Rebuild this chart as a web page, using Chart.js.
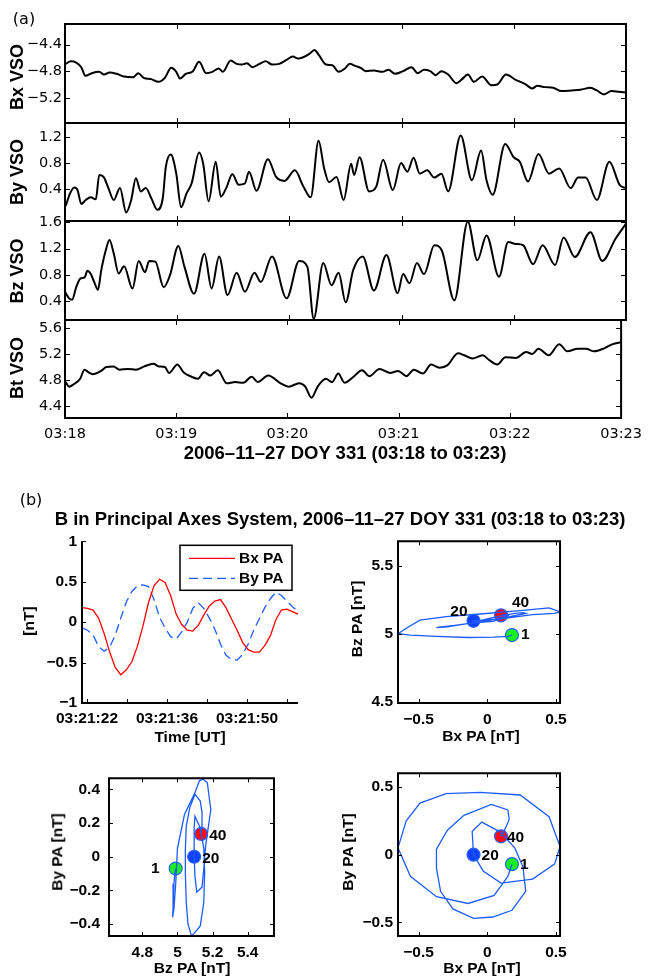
<!DOCTYPE html>
<html>
<head>
<meta charset="utf-8">
<script src="https://cdn.jsdelivr.net/npm/chart.js@4.4.1/dist/chart.umd.min.js"></script>
<style>
body { margin: 0; background: #fff; width: 650px; height: 979px; position: relative; overflow: hidden; font-family: 'Liberation Sans', Arial, sans-serif; }
canvas { position: absolute; }
.t { position: absolute; white-space: nowrap; color: #000; line-height: 1; transform: translate(-50%, -50%); }
.r { transform: translate(-50%, -50%) rotate(-90deg); }
.b { font-weight: bold; }
.top { font-size: 18px; }
.pa { font-size: 15.5px; }
.big { font-size: 18.5px; }
.tag { font-family: 'DejaVu Sans', sans-serif; font-size: 16px; }
</style>
</head>
<body>
<canvas id="pBx"></canvas>
<canvas id="pBy"></canvas>
<canvas id="pBz"></canvas>
<canvas id="pBt"></canvas>
<canvas id="paTime"></canvas>
<canvas id="paXZ"></canvas>
<canvas id="paZY"></canvas>
<canvas id="paXY"></canvas>

<div class="t tag" style="left:24px;top:19px">(a)</div>
<div class="t b top r" style="left:17px;top:77px">Bx VSO</div>
<div class="t b top r" style="left:17px;top:172px">By VSO</div>
<div class="t b top r" style="left:17px;top:271px">Bz VSO</div>
<div class="t b top r" style="left:17px;top:368px">Bt VSO</div>
<div class="t b big" style="left:345px;top:453px">2006–11–27 DOY 331 (03:18 to 03:23)</div>

<div class="t tag" style="left:31px;top:500px">(b)</div>
<div class="t b big" style="left:340px;top:519px">B in Principal Axes System, 2006–11–27 DOY 331 (03:18 to 03:23)</div>
<div class="t b pa r" style="left:29px;top:621px">[nT]</div>
<div class="t b pa" style="left:190px;top:737px">Time [UT]</div>
<div class="t b pa r" style="left:357px;top:619px">Bz PA [nT]</div>
<div class="t b pa" style="left:481px;top:736px">Bx PA [nT]</div>
<div class="t b pa r" style="left:57px;top:852px">By PA [nT]</div>
<div class="t b pa" style="left:192px;top:968px">Bz PA [nT]</div>
<div class="t b pa r" style="left:348px;top:852px">By PA [nT]</div>
<div class="t b pa" style="left:482px;top:968px">Bx PA [nT]</div>

<script>
// (a) VSO components, seconds after 03:18:00 and field in nT
const bxT = [0.4, 3.1, 6.0, 8.7, 10.9, 14.3, 18.3, 20.9, 23.8, 27.6, 31.6, 36.5, 39.2, 42.1, 46.1, 49.9, 53.4, 56.8, 59.5, 61.5, 64.6, 68.4, 71.7, 75.5, 78.8, 82.2, 84.4, 88.6, 91.8, 94.6, 97.3, 100.2, 104.0, 107.3, 110.7, 114.5, 118.5, 121.8, 124.7, 127.4, 130.7, 133.4, 135.8, 139.6, 143.0, 146.3, 149.7, 152.3, 155.2, 158.1, 160.8, 165.2, 169.7, 173.0, 176.4, 180.8, 185.3, 188.6, 192.0, 195.3, 198.2, 201.3, 204.9, 209.3, 212.0, 215.4, 218.7, 223.1, 228.0, 231.2, 235.8, 241.0, 245.9, 249.9, 252.5, 256.6, 261.0, 265.5, 271.0, 275.5, 281.0, 284.4, 288.2, 292.2, 296.2, 300.0]
const bxV = [-4.69, -4.65, -4.67, -4.74, -4.87, -4.83, -4.81, -4.85, -4.82, -4.84, -4.88, -4.89, -4.83, -4.90, -4.92, -4.96, -4.90, -4.75, -4.81, -4.91, -4.84, -4.80, -4.66, -4.83, -4.81, -4.76, -4.81, -4.64, -4.69, -4.70, -4.68, -4.74, -4.69, -4.65, -4.70, -4.69, -4.63, -4.58, -4.61, -4.59, -4.54, -4.48, -4.56, -4.70, -4.71, -4.81, -4.76, -4.69, -4.72, -4.75, -4.80, -4.79, -4.81, -4.78, -4.84, -4.80, -4.74, -4.83, -4.78, -4.80, -4.86, -4.80, -4.85, -4.98, -4.93, -4.85, -4.96, -4.88, -5.01, -5.00, -4.85, -4.93, -4.99, -5.06, -5.02, -5.04, -5.05, -5.10, -5.09, -5.08, -5.05, -5.09, -5.15, -5.10, -5.11, -5.12]

const byT = [0.4, 2.7, 4.9, 6.7, 8.7, 11.1, 13.8, 16.5, 18.3, 20.9, 23.2, 26.1, 29.4, 32.7, 35.4, 37.9, 40.5, 43.2, 46.1, 49.4, 52.3, 53.9, 56.6, 59.5, 62.1, 65.0, 67.7, 71.7, 73.9, 76.8, 80.6, 83.3, 86.2, 89.5, 92.9, 96.2, 98.4, 102.4, 108.5, 112.9, 117.4, 122.9, 127.4, 131.4, 135.6, 138.5, 141.2, 145.2, 149.0, 153.0, 154.6, 157.5, 162.6, 166.4, 170.1, 175.3, 179.7, 183.1, 186.4, 189.7, 193.7, 197.5, 201.3, 204.9, 211.6, 217.6, 222.5, 225.4, 228.7, 235.4, 239.9, 243.2, 247.6, 253.2, 258.8, 264.3, 270.4, 274.4, 278.4, 284.4, 291.1, 296.6, 300]
const byV = [0.15, 0.34, 0.43, 0.39, 0.18, 0.24, 0.28, 0.25, 0.62, 0.58, 0.42, 0.24, 0.42, 0.05, 0.24, 0.57, 0.37, 0.42, 0.27, 0.09, 0.27, 0.74, 0.93, 0.64, 0.13, 0.34, 0.49, 0.96, 0.79, 0.22, 0.82, 0.29, 0.42, 0.63, 0.47, 0.49, 0.67, 0.38, 0.86, 0.59, 0.53, 0.69, 0.45, 0.28, 1.14, 0.73, 0.51, 0.59, 0.24, 0.79, 0.62, 0.89, 0.37, 0.44, 0.85, 0.39, 0.80, 0.67, 0.88, 0.64, 0.69, 0.58, 0.64, 0.37, 1.22, 0.54, 0.99, 0.54, 0.32, 1.09, 0.89, 0.82, 0.52, 0.94, 0.64, 0.72, 0.42, 0.58, 0.58, 0.24, 0.82, 0.47, 0.42]

const bzT = [0, 2.2, 3.8, 6.0, 8.2, 10.5, 12.0, 13.8, 15.6, 17.6, 19.4, 21.6, 23.8, 26.1, 28.7, 31.6, 36.1, 39.4, 42.8, 45.0, 48.3, 52.8, 56.1, 60.6, 63.9, 69.0, 74.6, 78.4, 82.4, 86.9, 91.8, 96.2, 101.3, 104.7, 110.7, 118.5, 125.2, 129.6, 133.0, 138.1, 142.5, 146.3, 150.1, 154.1, 159.2, 165.2, 171.9, 177.9, 180.8, 184.2, 188.2, 192.0, 197.5, 201.5, 208.2, 215.4, 220.5, 225.4, 232.1, 237.0, 241.0, 245.0, 250.3, 255.4, 262.1, 266.6, 272.6, 281.0, 287.3, 294.4, 300]
const bzV = [0.54, 0.44, 0.42, 0.61, 0.74, 0.76, 0.86, 0.81, 0.69, 0.57, 0.87, 1.15, 1.33, 1.12, 0.82, 0.93, 0.59, 1.01, 0.84, 1.01, 1.00, 0.61, 0.79, 1.24, 0.92, 0.51, 1.12, 0.59, 1.08, 0.49, 0.83, 0.54, 0.83, 0.69, 1.08, 0.44, 1.01, 0.92, 0.13, 0.98, 0.64, 0.83, 0.38, 0.87, 1.08, 0.56, 1.10, 0.52, 0.81, 0.67, 0.98, 0.81, 1.25, 1.17, 0.41, 1.61, 1.02, 1.40, 0.77, 1.30, 1.27, 1.25, 0.96, 1.25, 0.95, 1.37, 1.07, 1.45, 1.01, 1.35, 1.58]

const btT = [0.4, 2.2, 4.9, 8.2, 10.5, 12.7, 14.9, 19.4, 22.3, 26.1, 29.4, 33.9, 38.3, 42.8, 47.7, 50.6, 53.9, 56.1, 60.6, 63.9, 68.4, 71.7, 75.0, 78.4, 82.4, 87.3, 91.8, 96.2, 100.7, 104.0, 109.6, 116.3, 120.7, 126.3, 129.6, 133.0, 136.3, 140.7, 144.1, 147.4, 150.8, 155.2, 160.3, 164.1, 169.7, 175.3, 179.7, 184.2, 188.2, 193.1, 197.5, 202.0, 206.4, 212.0, 215.4, 219.8, 225.4, 228.7, 233.2, 237.6, 243.2, 248.8, 252.1, 255.4, 261.0, 266.6, 271.0, 276.6, 281.0, 285.5, 291.1, 295.5, 300]
const btV = [4.77, 4.70, 4.74, 4.82, 4.96, 4.92, 4.89, 4.94, 5.00, 5.01, 4.96, 4.97, 4.96, 5.01, 5.05, 5.01, 5.00, 4.91, 5.04, 4.92, 4.85, 4.82, 4.92, 4.87, 4.95, 4.75, 4.77, 4.76, 4.85, 4.77, 4.87, 4.75, 4.70, 4.75, 4.70, 4.53, 4.70, 4.82, 4.77, 4.90, 4.76, 4.84, 4.95, 4.86, 4.97, 4.91, 4.94, 4.86, 4.96, 4.90, 5.04, 4.99, 5.03, 5.21, 5.18, 5.13, 5.18, 5.11, 5.04, 5.15, 5.14, 5.23, 5.20, 5.28, 5.18, 5.35, 5.24, 5.28, 5.28, 5.24, 5.29, 5.35, 5.38]

const minuteTicks = [0, 60, 120, 180, 240, 300]
const minuteLabels = ['03:18', '03:19', '03:20', '03:21', '03:22', '03:23']

// (b) principal axes, 40 samples from 03:21:21
const paBx = [0.18, 0.17, 0.15, 0.05, -0.14, -0.37, -0.56, -0.65, -0.59, -0.49, -0.30, -0.05, 0.24, 0.45, 0.53, 0.49, 0.33, 0.10, -0.03, -0.10, -0.11, -0.04, 0.09, 0.20, 0.26, 0.28, 0.18, 0.04, -0.10, -0.25, -0.34, -0.37, -0.37, -0.29, -0.17, 0.03, 0.15, 0.16, 0.13, 0.10]
const paBy = [-0.07, -0.10, -0.16, -0.30, -0.36, -0.31, -0.16, 0.05, 0.25, 0.38, 0.45, 0.46, 0.44, 0.28, 0.06, -0.07, -0.18, -0.21, -0.12, 0.00, 0.17, 0.24, 0.17, 0.05, -0.09, -0.27, -0.41, -0.46, -0.47, -0.40, -0.27, -0.10, 0.04, 0.18, 0.29, 0.37, 0.33, 0.26, 0.19, 0.135]
const paBz = [4.99, 4.985, 4.98, 4.975, 4.972, 4.98, 4.99, 5.00, 5.04, 5.10, 5.125, 5.145, 5.17, 5.19, 5.16, 5.15, 5.14, 5.11, 5.10, 5.095, 5.095, 5.10, 5.13, 5.15, 5.155, 5.15, 5.13, 5.09, 5.08, 5.06, 5.05, 5.045, 5.045, 5.05, 5.07, 5.10, 5.13, 5.14, 5.14, 5.135]

const paTickPos = [1.9, 9.12, 16.35, 23.57, 30.79, 38.01]
const paTickLabels = ['03:21:22', '', '03:21:36', '', '03:21:50', '']
const markIdx = [1, 20, 40]
const markColors = ['#19f019', '#1240ff', '#ff0a0a']

const blue = 'rgb(28,92,255)'
const minus = (s) => s.replace('-', '\u2212')
const fmt1 = (v) => minus(v.toFixed(1))
const fmtG = (v) => minus(String(Math.round(v * 10) / 10))
const topFont = { family: "'DejaVu Sans', sans-serif", size: 14.5 }
const paFont = { family: "'Liberation Sans', Arial, sans-serif", size: 15.5, weight: 'bold' }

// box (or L-shaped axes) with inward tick marks
const framePlugin = {
    id: 'frame',
    afterDatasetsDraw(chart, args, o) {
        const { ctx, chartArea: a } = chart
        const x = chart.scales.x
        const y = chart.scales.y
        ctx.save()
        ctx.strokeStyle = '#000'
        ctx.lineWidth = o.tw
        ctx.beginPath()
        x.ticks.forEach((t) => {
            const px = Math.round(x.getPixelForValue(t.value)) + 0.5
            ctx.moveTo(px, a.bottom)
            ctx.lineTo(px, a.bottom - o.tl)
            if (o.box) {
                ctx.moveTo(px, a.top)
                ctx.lineTo(px, a.top + o.tl)
            }
        })
        y.ticks.forEach((t) => {
            const py = Math.round(y.getPixelForValue(t.value)) + 0.5
            ctx.moveTo(a.left, py)
            ctx.lineTo(a.left + o.tl, py)
            if (o.box) {
                ctx.moveTo(a.right, py)
                ctx.lineTo(a.right - o.tl, py)
            }
        })
        ctx.stroke()
        ctx.lineWidth = o.lw
        ctx.beginPath()
        if (o.box) {
            ctx.rect(a.left, a.top, a.right - a.left, a.bottom - a.top)
        } else {
            ctx.moveTo(a.left, a.top)
            ctx.lineTo(a.left, a.bottom)
            ctx.lineTo(a.right, a.bottom)
        }
        ctx.stroke()
        ctx.restore()
    },
}

// sample numbers next to the coloured markers
const markLabels = {
    id: 'marks',
    afterDatasetsDraw(chart, args, o) {
        const { ctx } = chart
        const pts = chart.getDatasetMeta(1).data
        ctx.save()
        ctx.fillStyle = '#000'
        ctx.font = 'bold 15.5px "Liberation Sans", Arial, sans-serif'
        ctx.textBaseline = 'middle'
        pts.forEach((p, i) => {
            const off = o.offsets[i]
            ctx.textAlign = off[2]
            ctx.fillText(String(markIdx[i]), p.x + off[0], p.y + off[1])
        })
        ctx.restore()
    },
}

// boxed legend in the top right of the time plot
const legendBox = {
    id: 'legendBox',
    afterDatasetsDraw(chart) {
        const { ctx, chartArea: a } = chart
        const l = a.right - 118
        const t = a.top + 4
        ctx.save()
        ctx.fillStyle = '#fff'
        ctx.fillRect(l, t, 112, 45)
        ctx.strokeStyle = '#000'
        ctx.lineWidth = 1.5
        ctx.strokeRect(l, t, 112, 45)
        ctx.font = 'bold 15.5px "Liberation Sans", Arial, sans-serif'
        ctx.textBaseline = 'middle'
        chart.data.datasets.forEach((ds, i) => {
            const yy = t + 13 + i * 20
            ctx.strokeStyle = ds.borderColor
            ctx.lineWidth = ds.borderWidth
            ctx.setLineDash(ds.borderDash || [])
            ctx.beginPath()
            ctx.moveTo(l + 9, yy)
            ctx.lineTo(l + 55, yy)
            ctx.stroke()
            ctx.setLineDash([])
            ctx.fillStyle = '#000'
            ctx.fillText(ds.label, l + 59, yy)
        })
        ctx.restore()
    },
}

const place = (id, area, pad) => {
    const c = document.getElementById(id)
    c.width = area.r - area.l + pad.l + pad.r
    c.height = area.b - area.t + pad.t + pad.b
    c.style.left = area.l - pad.l + 'px'
    c.style.top = area.t - pad.t + 'px'
    return c
}

const axis = (min, max, ticks, labels, size, font, padding, show) => ({
    type: 'linear',
    min: min,
    max: max,
    afterBuildTicks: (s) => {
        s.ticks = ticks.map((v) => ({ value: v }))
    },
    afterFit: (s) => {
        if (s.isHorizontal()) s.height = size
        else s.width = size
    },
    ticks: {
        display: show,
        autoSkip: false,
        maxRotation: 0,
        padding: padding,
        color: '#000',
        font: font,
        callback: (v, i) => labels[i],
    },
    grid: { display: false, drawTicks: false },
    border: { display: false },
})

const baseOpts = (pad) => ({
    responsive: false,
    animation: false,
    events: [],
    layout: { autoPadding: false, padding: { top: pad.t, right: pad.r, left: 0, bottom: 0 } },
})

// graphic : the four VSO panels
const topPanel = (id, tArr, vArr, area, yMin, yMax, yTicks, showX) => {
    const pad = { l: 65, r: 24, t: 12, b: showX ? 32 : 12 }
    const c = place(id, area, pad)
    new Chart(c, {
        type: 'line',
        data: {
            datasets: [
                {
                    data: tArr.map((t, i) => ({ x: t, y: vArr[i] })),
                    borderColor: '#000',
                    borderWidth: 2,
                    pointRadius: 0,
                    cubicInterpolationMode: 'monotone',
                },
            ],
        },
        options: {
            ...baseOpts(pad),
            plugins: { legend: { display: false }, tooltip: { enabled: false }, frame: { box: true, lw: 2, tw: 1, tl: 5 } },
            scales: {
                x: axis(0, 300, minuteTicks, minuteLabels, pad.b, topFont, 8, showX),
                y: axis(yMin, yMax, yTicks, yTicks.map(fmt1), pad.l, topFont, 3, true),
            },
        },
        plugins: [framePlugin],
    })
}

topPanel('pBx', bxT, bxV, { l: 65, r: 626, t: 24, b: 123 }, -5.58, -4.09, [-5.2, -4.8, -4.4], false)
topPanel('pBy', byT, byV, { l: 65, r: 626, t: 123, b: 221 }, -0.08, 1.41, [0.4, 0.8, 1.2], false)
topPanel('pBz', bzT, bzV, { l: 65, r: 626, t: 221, b: 320 }, 0.11, 1.62, [0.4, 0.8, 1.2, 1.6], false)
topPanel('pBt', btT, btV, { l: 65, r: 626, t: 320, b: 418 }, 4.22, 5.72, [4.4, 4.8, 5.2, 5.6], true)

// graphic : Bx PA and By PA against time
{
    const area = { l: 82, r: 298, t: 539, b: 703 }
    const pad = { l: 60, r: 12, t: 12, b: 30 }
    const c = place('paTime', area, pad)
    const yT = [-1, -0.5, 0, 0.5, 1]
    new Chart(c, {
        type: 'line',
        data: {
            datasets: [
                { label: 'Bx PA', data: paBx.map((v, i) => ({ x: i + 1, y: v })), borderColor: '#ff0000', borderWidth: 1.3, pointRadius: 0, tension: 0 },
                { label: 'By PA', data: paBy.map((v, i) => ({ x: i + 1, y: v })), borderColor: blue, borderWidth: 1.3, borderDash: [9, 5], pointRadius: 0, tension: 0 },
            ],
        },
        options: {
            ...baseOpts(pad),
            plugins: { legend: { display: false }, tooltip: { enabled: false }, frame: { box: false, lw: 2, tw: 1, tl: 4 } },
            scales: {
                x: axis(1, 40, paTickPos, paTickLabels, pad.b, paFont, 6, true),
                y: axis(-1, 1, yT, yT.map(fmtG), pad.l, paFont, 5, true),
            },
        },
        plugins: [framePlugin, legendBox],
    })
}

// graphic : hodograms
const hodo = (id, area, padL, ylabPad, xs, ys, xMin, xMax, xT, yMin, yMax, yT, offsets) => {
    const pad = { l: padL, r: 12, t: 12, b: 30 }
    const c = place(id, area, pad)
    new Chart(c, {
        type: 'scatter',
        data: {
            datasets: [
                { data: xs.map((v, i) => ({ x: v, y: ys[i] })), showLine: true, borderColor: blue, borderWidth: 1.3, pointRadius: 0, tension: 0 },
                {
                    data: markIdx.map((k) => ({ x: xs[k - 1], y: ys[k - 1] })),
                    pointRadius: 6.5,
                    pointBackgroundColor: markColors,
                    pointBorderColor: 'rgb(40,100,255)',
                    pointBorderWidth: 1.2,
                },
            ],
        },
        options: {
            ...baseOpts(pad),
            plugins: { legend: { display: false }, tooltip: { enabled: false }, frame: { box: true, lw: 2, tw: 1, tl: 4 }, marks: { offsets: offsets } },
            scales: {
                x: axis(xMin, xMax, xT, xT.map(fmtG), pad.b, paFont, 7, true),
                y: axis(yMin, yMax, yT, yT.map(fmtG), pad.l, paFont, ylabPad, true),
            },
        },
        plugins: [framePlugin, markLabels],
    })
}

hodo('paXZ', { l: 398, r: 562, t: 539, b: 703 }, 50, 5, paBx, paBz, -0.65, 0.53, [-0.5, 0, 0.5], 4.49, 5.68, [4.5, 5, 5.5],
    [[9, 0, 'left'], [-6, -9, 'right'], [11, -13, 'left']])
hodo('paZY', { l: 109, r: 274, t: 772, b: 936 }, 55, 9, paBz, paBy, 4.61, 5.55, [4.8, 5, 5.2, 5.4], -0.47, 0.465, [-0.4, -0.2, 0, 0.2, 0.4],
    [[-16, 0, 'right'], [8, 2, 'left'], [8, 2, 'left']])
hodo('paXY', { l: 398, r: 562, t: 771, b: 936 }, 50, 5, paBx, paBy, -0.65, 0.53, [-0.5, 0, 0.5], -0.6, 0.6, [-0.5, 0, 0.5],
    [[8, 1, 'left'], [8, 1, 'left'], [6, 1, 'left']])
</script>
</body>
</html>
